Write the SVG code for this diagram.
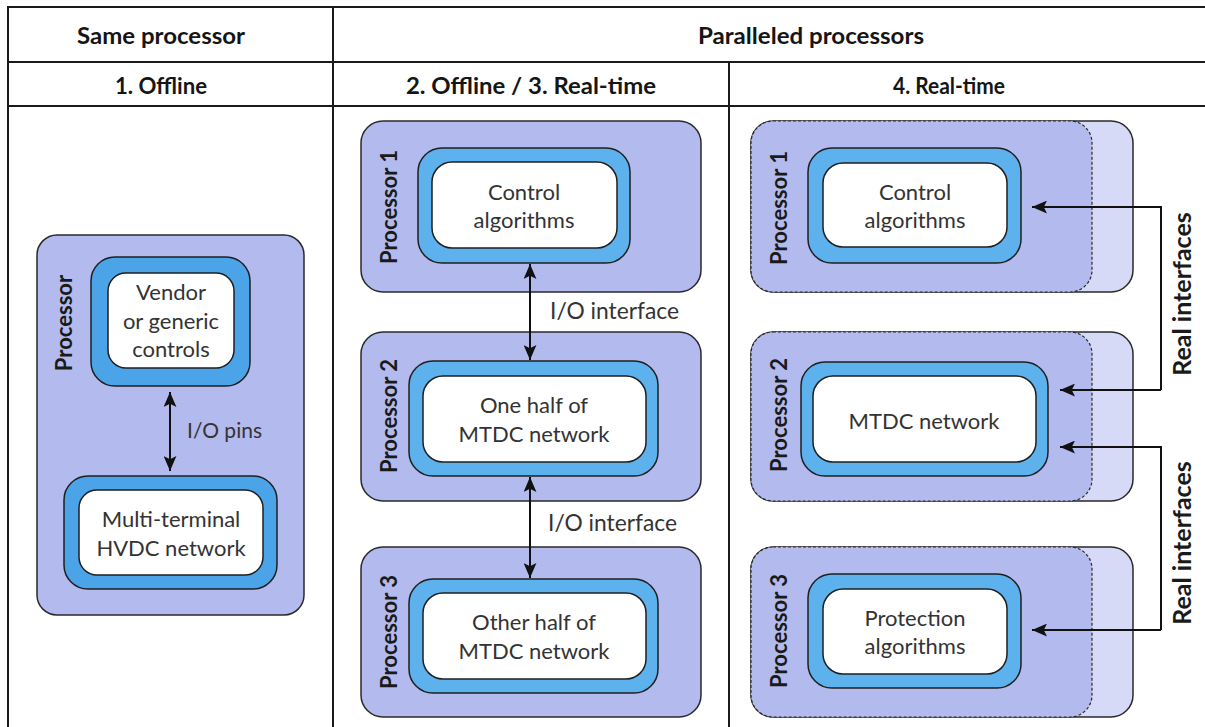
<svg xmlns="http://www.w3.org/2000/svg" width="1205" height="727" viewBox="0 0 1205 727">
  <defs>
    <marker id="head" viewBox="0 0 14 12" refX="14" refY="6" markerWidth="15" markerHeight="13" markerUnits="userSpaceOnUse" orient="auto-start-reverse">
      <path d="M0,0 L14,6 L0,12 L3,6 Z" fill="#111"/>
    </marker>
    <style>
      .grid { stroke: #1a1a1a; stroke-width: 2; fill: none; }
      .hdr { font-family: Lato, "Open Sans", sans-serif; font-weight: 700; font-size: 22px; fill: #151515; text-anchor: middle; }
      .proc { fill: #b3baed; stroke: #2a2a2a; stroke-width: 1.5; }
      .proc-front { fill: #b3baed; stroke: #2a2a2a; stroke-width: 1.2; stroke-dasharray: 3 2; }
      .proc-back { fill: #d6daf6; stroke: #2a2a2a; stroke-width: 1.5; }
      .ring { fill: #5db1ec; stroke: #1f1f1f; stroke-width: 1.5; }
      .ring-l { fill: #4ba3e8; stroke: #1f1f1f; stroke-width: 1.5; }
      .core { fill: #ffffff; stroke: #1f1f1f; stroke-width: 1.5; }
      .lbl { font-family: Lato, "Open Sans", sans-serif; font-size: 22px; fill: #333; text-anchor: middle; }
      .plbl { font-family: Lato, "Open Sans", sans-serif; font-weight: 700; font-size: 22px; fill: #1a1a1a; text-anchor: middle; }
      .rlbl { font-family: Lato, "Open Sans", sans-serif; font-weight: 700; font-size: 25px; fill: #1a1a1a; text-anchor: middle; }
      .io { font-family: Lato, "Open Sans", sans-serif; font-size: 21px; fill: #333; }
      .io-wide { font-family: Lato, "Open Sans", sans-serif; font-size: 22.8px; fill: #333; }
      .link { stroke: #111; stroke-width: 2; fill: none; }
    </style>
  </defs>

  <rect width="1205" height="727" fill="#ffffff"/>

  <!-- table frame -->
  <g id="table">
    <line class="grid" x1="8" y1="7" x2="1205" y2="7"/>
    <line class="grid" x1="8" y1="62" x2="1205" y2="62"/>
    <line class="grid" x1="8" y1="106" x2="1205" y2="106"/>
    <line class="grid" x1="8" y1="6" x2="8" y2="727"/>
    <line class="grid" x1="333" y1="7" x2="333" y2="727"/>
    <line class="grid" x1="729" y1="62" x2="729" y2="727"/>
    <text class="hdr" x="161" y="44" textLength="168" lengthAdjust="spacingAndGlyphs">Same processor</text>
    <text class="hdr" x="811" y="44" textLength="226" lengthAdjust="spacingAndGlyphs">Paralleled processors</text>
    <text class="hdr" x="161" y="94" textLength="92" lengthAdjust="spacingAndGlyphs">1. Offline</text>
    <text class="hdr" x="531" y="94" textLength="250" lengthAdjust="spacingAndGlyphs">2. Offline / 3. Real-time</text>
    <text class="hdr" x="949" y="94" textLength="112" lengthAdjust="spacingAndGlyphs">4. Real-time</text>
  </g>

  <!-- column 1: same processor -->
  <g id="proc-single">
    <rect class="proc" x="37" y="235" width="267" height="380" rx="20"/>
    <text class="plbl" transform="translate(72,323) rotate(-90)">Processor</text>
  </g>
  <g id="vendor-controls">
    <rect class="ring-l" x="91" y="257" width="159" height="129" rx="24"/>
    <rect class="core" x="108" y="273" width="126" height="95" rx="18"/>
    <text class="lbl" x="171" y="300">Vendor</text>
    <text class="lbl" x="171" y="329">or generic</text>
    <text class="lbl" x="171" y="357">controls</text>
  </g>
  <g id="mt-hvdc">
    <rect class="ring-l" x="64" y="476" width="213" height="113" rx="24"/>
    <rect class="core" x="79" y="490" width="184" height="85" rx="18"/>
    <text class="lbl" x="171" y="527">Multi-terminal</text>
    <text class="lbl" x="171" y="556">HVDC network</text>
  </g>

  <!-- column 2: paralleled processors, offline / real-time -->
  <g id="p1-mid">
    <rect class="proc" x="361" y="121" width="340" height="171" rx="22"/>
    <text class="plbl" transform="translate(397,207) rotate(-90)">Processor 1</text>
    <rect class="ring" x="418" y="148" width="212" height="115" rx="24"/>
    <rect class="core" x="432" y="162" width="185" height="86" rx="20"/>
    <text class="lbl" x="524" y="200">Control</text>
    <text class="lbl" x="524" y="228">algorithms</text>
  </g>
  <g id="p2-mid">
    <rect class="proc" x="361" y="332" width="340" height="169" rx="22"/>
    <text class="plbl" transform="translate(397,416) rotate(-90)">Processor 2</text>
    <rect class="ring" x="409" y="361" width="249" height="115" rx="24"/>
    <rect class="core" x="423" y="376" width="223" height="86" rx="20"/>
    <text class="lbl" x="534" y="413">One half of</text>
    <text class="lbl" x="534" y="442">MTDC network</text>
  </g>
  <g id="p3-mid">
    <rect class="proc" x="361" y="547" width="340" height="170" rx="22"/>
    <text class="plbl" transform="translate(397,632) rotate(-90)">Processor 3</text>
    <rect class="ring" x="409" y="579" width="249" height="114" rx="24"/>
    <rect class="core" x="423" y="593" width="223" height="86" rx="20"/>
    <text class="lbl" x="534" y="630">Other half of</text>
    <text class="lbl" x="534" y="659">MTDC network</text>
  </g>

  <!-- column 3: paralleled processors, real-time -->
  <g id="p1-rt">
    <rect class="proc-back" x="751" y="121" width="382" height="171" rx="22"/>
    <rect class="proc-front" x="751" y="121" width="341" height="171" rx="22"/>
    <text class="plbl" transform="translate(787,208) rotate(-90)">Processor 1</text>
    <rect class="ring" x="808" y="148" width="213" height="115" rx="24"/>
    <rect class="core" x="823" y="163" width="184" height="84" rx="20"/>
    <text class="lbl" x="915" y="200">Control</text>
    <text class="lbl" x="915" y="228">algorithms</text>
  </g>
  <g id="p2-rt">
    <rect class="proc-back" x="751" y="332" width="382" height="169" rx="22"/>
    <rect class="proc-front" x="751" y="332" width="341" height="169" rx="22"/>
    <text class="plbl" transform="translate(787,415) rotate(-90)">Processor 2</text>
    <rect class="ring" x="801" y="362" width="247" height="114" rx="24"/>
    <rect class="core" x="813" y="376" width="223" height="86" rx="20"/>
    <text class="lbl" x="924" y="429">MTDC network</text>
  </g>
  <g id="p3-rt">
    <rect class="proc-back" x="751" y="547" width="382" height="170" rx="22"/>
    <rect class="proc-front" x="751" y="547" width="341" height="170" rx="22"/>
    <text class="plbl" transform="translate(787,631) rotate(-90)">Processor 3</text>
    <rect class="ring" x="808" y="574" width="213" height="114" rx="24"/>
    <rect class="core" x="823" y="589" width="184" height="85" rx="20"/>
    <text class="lbl" x="915" y="626">Protection</text>
    <text class="lbl" x="915" y="654">algorithms</text>
  </g>

  <!-- connectors -->
  <g id="connectors">
    <line class="link" x1="170" y1="392" x2="170" y2="471" marker-start="url(#head)" marker-end="url(#head)"/>
    <text class="io" x="187" y="438">I/O pins</text>

    <line class="link" x1="530" y1="264" x2="530" y2="360" marker-start="url(#head)" marker-end="url(#head)"/>
    <text class="io-wide" x="550" y="319">I/O interface</text>
    <line class="link" x1="530" y1="477" x2="530" y2="578" marker-start="url(#head)" marker-end="url(#head)"/>
    <text class="io-wide" x="548" y="531">I/O interface</text>

    <path class="link" d="M1161,390 V207 H1032" marker-end="url(#head)"/>
    <line class="link" x1="1161" y1="390" x2="1060" y2="390" marker-end="url(#head)"/>
    <path class="link" d="M1161,630 V447 H1060" marker-end="url(#head)"/>
    <line class="link" x1="1161" y1="630" x2="1032" y2="630" marker-end="url(#head)"/>
    <text class="rlbl" transform="translate(1191,294) rotate(-90)">Real interfaces</text>
    <text class="rlbl" transform="translate(1191,543) rotate(-90)">Real interfaces</text>
  </g>
</svg>
